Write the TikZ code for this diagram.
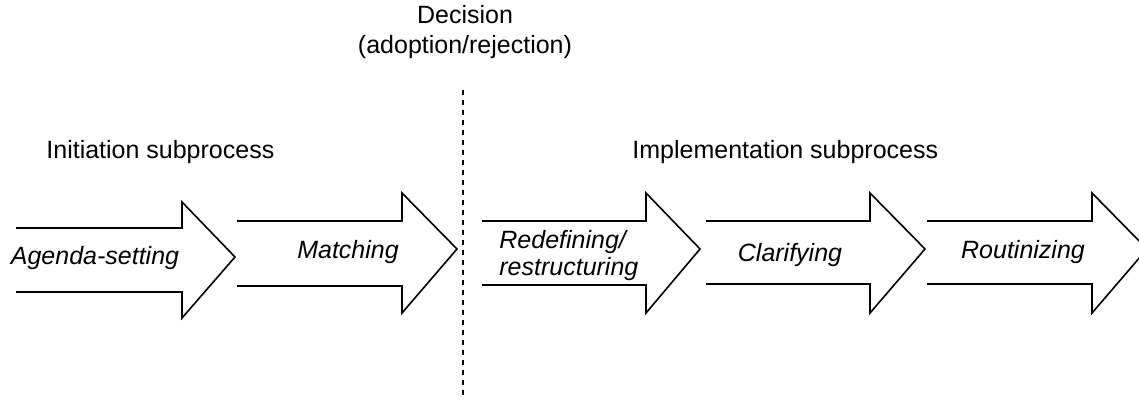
\documentclass[tikz,border=0pt]{standalone}
\usepackage{fontspec}
\setmainfont{Liberation Sans}
\begin{document}
\begin{tikzpicture}[x=0.5pt,y=-0.5pt,
  arrowshape/.style={draw=black,line width=0.8pt,fill=white,line join=miter},
  lbl/.style={font=\fontsize{12.5}{13.5}\selectfont\itshape,inner sep=0pt},
  ttl/.style={font=\fontsize{12.5}{15}\selectfont,inner sep=0pt,align=center},
  sep/.style={line width=1pt,dash pattern=on 2.5pt off 2.5pt}]
\useasboundingbox (0,0) rectangle (1139,400);
\fill[white] (0,0) rectangle (1139,400);
\begin{scope}
\clip (0,0) rectangle (1139,400);
% arrow 1
\draw[arrowshape] (16,228) -- (182,228) -- (182,202) -- (235,257) -- (182,318) -- (182,292) -- (16,292);
% arrow 2
\draw[arrowshape] (237,221) -- (402,221) -- (402,193) -- (457,249) -- (402,313) -- (402,286) -- (237,286);
% arrow 3
\draw[arrowshape] (482,221) -- (646,221) -- (646,193) -- (700,249) -- (646,313) -- (646,285) -- (482,285);
% arrow 4
\draw[arrowshape] (706,221) -- (870,221) -- (870,193) -- (925,249) -- (870,313) -- (870,284) -- (706,284);
% arrow 5
\draw[arrowshape] (927,221) -- (1092,221) -- (1092,193) -- (1147,249) -- (1092,313) -- (1092,284) -- (927,284);
\end{scope}
\coordinate (dtop) at (463,90);
\coordinate (dbot) at (463,400);
\draw[sep] (dtop) -- (dbot);
\node[lbl] (agenda) at (95,258) {Agenda-setting};
\node[lbl] (match) at (348,252) {Matching};
\node[lbl,align=left,anchor=west] (redef) at (499,256) {Redefining/\\restructuring};
\node[lbl] (clar) at (790,255) {Clarifying};
\node[lbl] (rout) at (1023,252) {Routinizing};
\node[ttl,anchor=west] (init) at (46,152) {Initiation subprocess};
\node[ttl,anchor=west] (impl) at (632,152) {Implementation subprocess};
\node[ttl] (dec) at (465,32) {Decision\\(adoption/rejection)};
\end{tikzpicture}
\end{document}
